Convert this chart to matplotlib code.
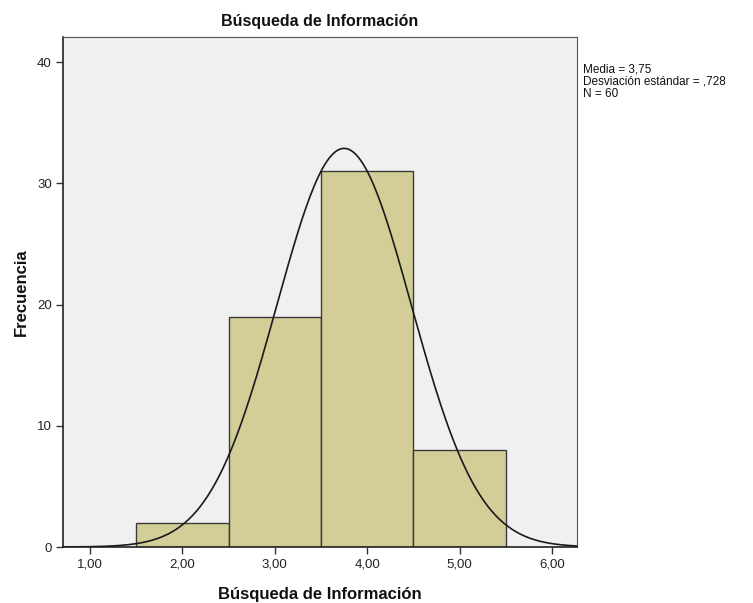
import numpy as np
import matplotlib
matplotlib.use("Agg")
import matplotlib.pyplot as plt

plt.rcParams['font.family'] = ['Liberation Sans', 'DejaVu Sans']

bin_edges = [1.5, 2.5, 3.5, 4.5, 5.5]
counts = [2, 19, 31, 8]
mean = 3.75
sd = 0.728
n = 60
xticks = [1, 2, 3, 4, 5, 6]
xtick_labels = ["1,00", "2,00", "3,00", "4,00", "5,00", "6,00"]
yticks = [0, 10, 20, 30, 40]
ytick_labels = ["0", "10", "20", "30", "40"]

fig = plt.figure(figsize=(7.53, 6.03), dpi=100)
ax = fig.add_axes([63/753, 56/603, 514/753, 510/603])
ax.set_facecolor('#F0F0F0')

lefts = bin_edges[:-1]
widths = np.diff(bin_edges)
ax.bar(lefts, counts, width=widths, align='edge', color='#D3CE97',
       edgecolor='#3A3A3A', linewidth=1.0, zorder=2)

xs = np.linspace(0.708, 6.27, 400)
bw = bin_edges[1] - bin_edges[0]
ys = n * bw / (sd * np.sqrt(2*np.pi)) * np.exp(-0.5 * ((xs - mean)/sd)**2)
ax.plot(xs, ys, color='#1A1A1A', linewidth=1.2, zorder=3)

ax.set_xlim(0.708, 6.27)
ax.set_ylim(0, 42.07)
ax.set_xticks(xticks)
ax.set_xticklabels(xtick_labels)
ax.set_yticks(yticks)
ax.set_yticklabels(ytick_labels)
ax.tick_params(direction='out', length=5, width=1, color='#333333',
               labelsize=9.5, labelcolor='#222222', pad=3)
for side in ['left', 'bottom']:
    ax.spines[side].set_color('#222222')
    ax.spines[side].set_linewidth(1.2)
for side in ['top', 'right']:
    ax.spines[side].set_color('#555555')
    ax.spines[side].set_linewidth(0.8)

ax.set_title('Búsqueda de Información', fontsize=11.5, fontweight='bold',
             color='#111111', pad=8)
ax.set_xlabel('Búsqueda de Información', fontsize=12, fontweight='bold',
              color='#111111', labelpad=12)
ax.set_ylabel('Frecuencia', fontsize=12, fontweight='bold',
              color='#111111', labelpad=6)

fig.text(583/753, 1 - 64/603,
         'Media = 3,75\nDesviación estándar = ,728\nN = 60',
         fontsize=8.5, va='top', ha='left', color='#111111', linespacing=1.0)

fig.savefig('out.png', dpi=100, facecolor='white')
